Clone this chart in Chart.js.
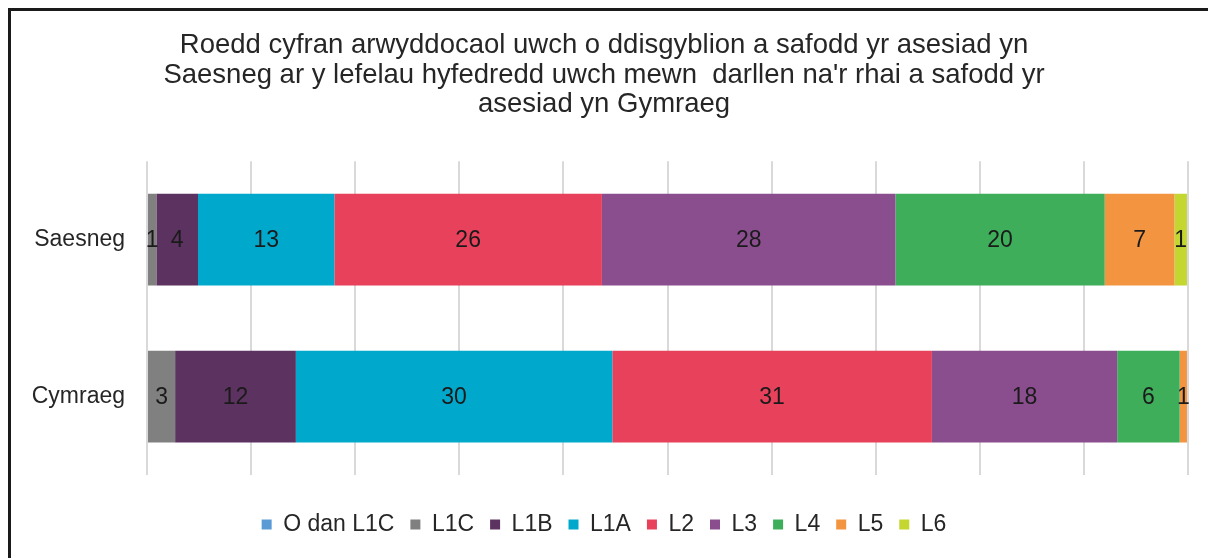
<!DOCTYPE html>
<html>
<head>
<meta charset="utf-8">
<script src="https://cdn.jsdelivr.net/npm/chart.js@4"></script>
<style>
    html, body { margin: 0; padding: 0; background: #fff; }
    #wrap { position: relative; width: 1208px; height: 558px; overflow: hidden; }
    #frame {
        position: absolute; left: 8px; top: 8px; width: 1300px; height: 700px;
        border-top: 3px solid #1a1a1a; border-left: 3px solid #1a1a1a;
        box-sizing: border-box; pointer-events: none;
    }
    canvas { position: absolute; left: 0; top: 0; }
</style>
</head>
<body>
<div id="wrap">
    <canvas id="chart" width="1208" height="558"></canvas>
    <div id="frame"></div>
</div>
<script>
const titleLines = [
    'Roedd cyfran arwyddocaol uwch o ddisgyblion a safodd yr asesiad yn',
    "Saesneg ar y lefelau hyfedredd uwch mewn  darllen na'r rhai a safodd yr",
    'asesiad yn Gymraeg'
];
const categories = ['Saesneg', 'Cymraeg'];
const levels = ['O dan L1C', 'L1C', 'L1B', 'L1A', 'L2', 'L3', 'L4', 'L5', 'L6'];
const colors = ['#5b9bd5', '#808080', '#5c3360', '#00a9cb', '#e8415b', '#8a4e8f', '#3eae5b', '#f39440', '#c4d630'];

// percentage per level, one array per category
const saesneg = [0, 0.9, 4.0, 13.1, 25.7, 28.2, 20.1, 6.7, 1.2];
const cymraeg = [0, 2.7, 11.6, 30.4, 30.7, 17.8, 6.0, 0.7, 0];

const FONT = 'Liberation Sans, Arial, sans-serif';
const TEXT_SIZE = 23;

const barLabels = {
    id: 'barLabels',
    afterDatasetsDraw(chart) {
        const ctx = chart.ctx;
        ctx.save();
        ctx.font = TEXT_SIZE + 'px ' + FONT;
        ctx.fillStyle = '#1a1a1a';
        ctx.textAlign = 'center';
        ctx.textBaseline = 'middle';
        chart.data.datasets.forEach((ds, i) => {
            const meta = chart.getDatasetMeta(i);
            meta.data.forEach((bar, j) => {
                const v = ds.data[j];
                if (!v) return;
                const { x, base, y } = bar.getProps(['x', 'base', 'y'], true);
                ctx.fillText(Math.round(v), (x + base) / 2, y + 1);
            });
        });
        ctx.restore();
    }
};

new Chart(document.getElementById('chart'), {
    type: 'bar',
    data: {
        labels: categories,
        datasets: levels.map((name, i) => ({
            label: name,
            data: [saesneg[i], cymraeg[i]],
            backgroundColor: colors[i],
            borderWidth: 0,
            categoryPercentage: 1,
            barPercentage: 0.585
        }))
    },
    options: {
        indexAxis: 'y',
        responsive: false,
        animation: false,
        layout: { padding: { left: 20, right: 20, bottom: 12 } },
        scales: {
            x: {
                stacked: true,
                min: 0,
                max: 100,
                ticks: { display: false, stepSize: 10 },
                grid: { color: '#d9d9d9', lineWidth: 2, drawTicks: false },
                border: { display: false },
                afterFit(scale) { scale.height = 22; }
            },
            y: {
                stacked: true,
                grid: { display: false },
                border: { display: false },
                ticks: { color: '#262626', font: { size: TEXT_SIZE, family: FONT }, padding: 14 },
                afterFit(scale) { scale.width = 127; }
            }
        },
        plugins: {
            title: {
                display: true,
                text: titleLines,
                color: '#262626',
                font: { size: 27.5, weight: 'normal', family: FONT, lineHeight: 1.07 },
                padding: { top: 31, bottom: 42 }
            },
            legend: {
                position: 'bottom',
                labels: {
                    color: '#262626',
                    font: { size: TEXT_SIZE, family: FONT },
                    boxWidth: 10,
                    boxHeight: 10,
                    padding: 16
                }
            },
            tooltip: { enabled: false }
        }
    },
    plugins: [barLabels]
});
</script>
</body>
</html>
